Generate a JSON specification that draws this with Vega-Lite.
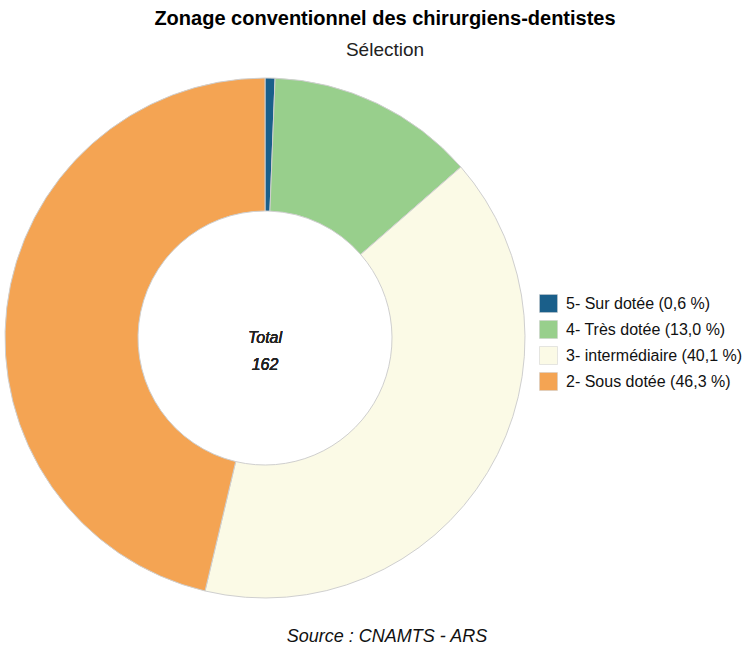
{
  "$schema": "https://vega.github.io/schema/vega-lite/v6.json",
  "autosize": {"type": "pad"},
  "padding": {"left": 3, "top": 9, "right": 5, "bottom": 2},
  "background": "white",
  "title": {
    "text": "Zonage conventionnel des chirurgiens-dentistes",
    "subtitle": "Sélection",
    "anchor": "middle",
    "font": "Liberation Sans",
    "fontSize": 20,
    "fontWeight": "bold",
    "color": "#000000",
    "subtitleFont": "Liberation Sans",
    "subtitleFontSize": 19,
    "subtitleColor": "#222222",
    "subtitlePadding": 12,
    "offset": 16,
    "dx": 12
  },
  "config": {"view": {"stroke": null}},
  "vconcat": [
    {
      "width": 520,
      "height": 520,
      "title": {
        "text": "Source : CNAMTS - ARS",
        "orient": "bottom",
        "anchor": "middle",
        "font": "Liberation Sans",
        "fontSize": 18,
        "fontStyle": "italic",
        "fontWeight": "normal",
        "color": "#111111",
        "offset": 28,
        "dx": 122
      },
      "data": {
        "values": [
          {"categorie": "5- Sur dotée (0,6 %)", "n": 1, "ordre": 1},
          {"categorie": "4- Très dotée (13,0 %)", "n": 21, "ordre": 2},
          {"categorie": "3- intermédiaire (40,1 %)", "n": 65, "ordre": 3},
          {"categorie": "2- Sous dotée (46,3 %)", "n": 75, "ordre": 4}
        ]
      },
      "layer": [
        {
          "mark": {"type": "arc", "outerRadius": 260, "innerRadius": 127, "stroke": "#cfcfcf", "strokeWidth": 1},
          "encoding": {
            "theta": {"field": "n", "type": "quantitative", "stack": true},
            "order": {"field": "ordre", "type": "quantitative"},
            "color": {
              "field": "categorie",
              "type": "nominal",
              "scale": {
                "domain": ["5- Sur dotée (0,6 %)", "4- Très dotée (13,0 %)", "3- intermédiaire (40,1 %)", "2- Sous dotée (46,3 %)"],
                "range": ["#1a5f8a", "#98cf8c", "#fbfae6", "#f4a453"]
              },
              "legend": {
                "title": null,
                "orient": "none",
                "legendX": 534,
                "legendY": 216,
                "symbolType": "square",
                "symbolSize": 324,
                "symbolStrokeColor": "#cccccc",
                "symbolStrokeWidth": 0.5,
                "labelFont": "Liberation Sans",
                "labelFontSize": 16,
                "labelColor": "#111111",
                "labelLimit": 400,
                "rowPadding": 5,
                "labelOffset": 8
              }
            }
          }
        },
        {
          "mark": {"type": "text", "font": "Liberation Sans", "fontSize": 16, "fontStyle": "italic", "fontWeight": "normal", "color": "#222222", "lineHeight": 27, "baseline": "middle"},
          "encoding": {"text": {"value": ["Total", "162"]}}
        }
      ]
    }
  ]
}
